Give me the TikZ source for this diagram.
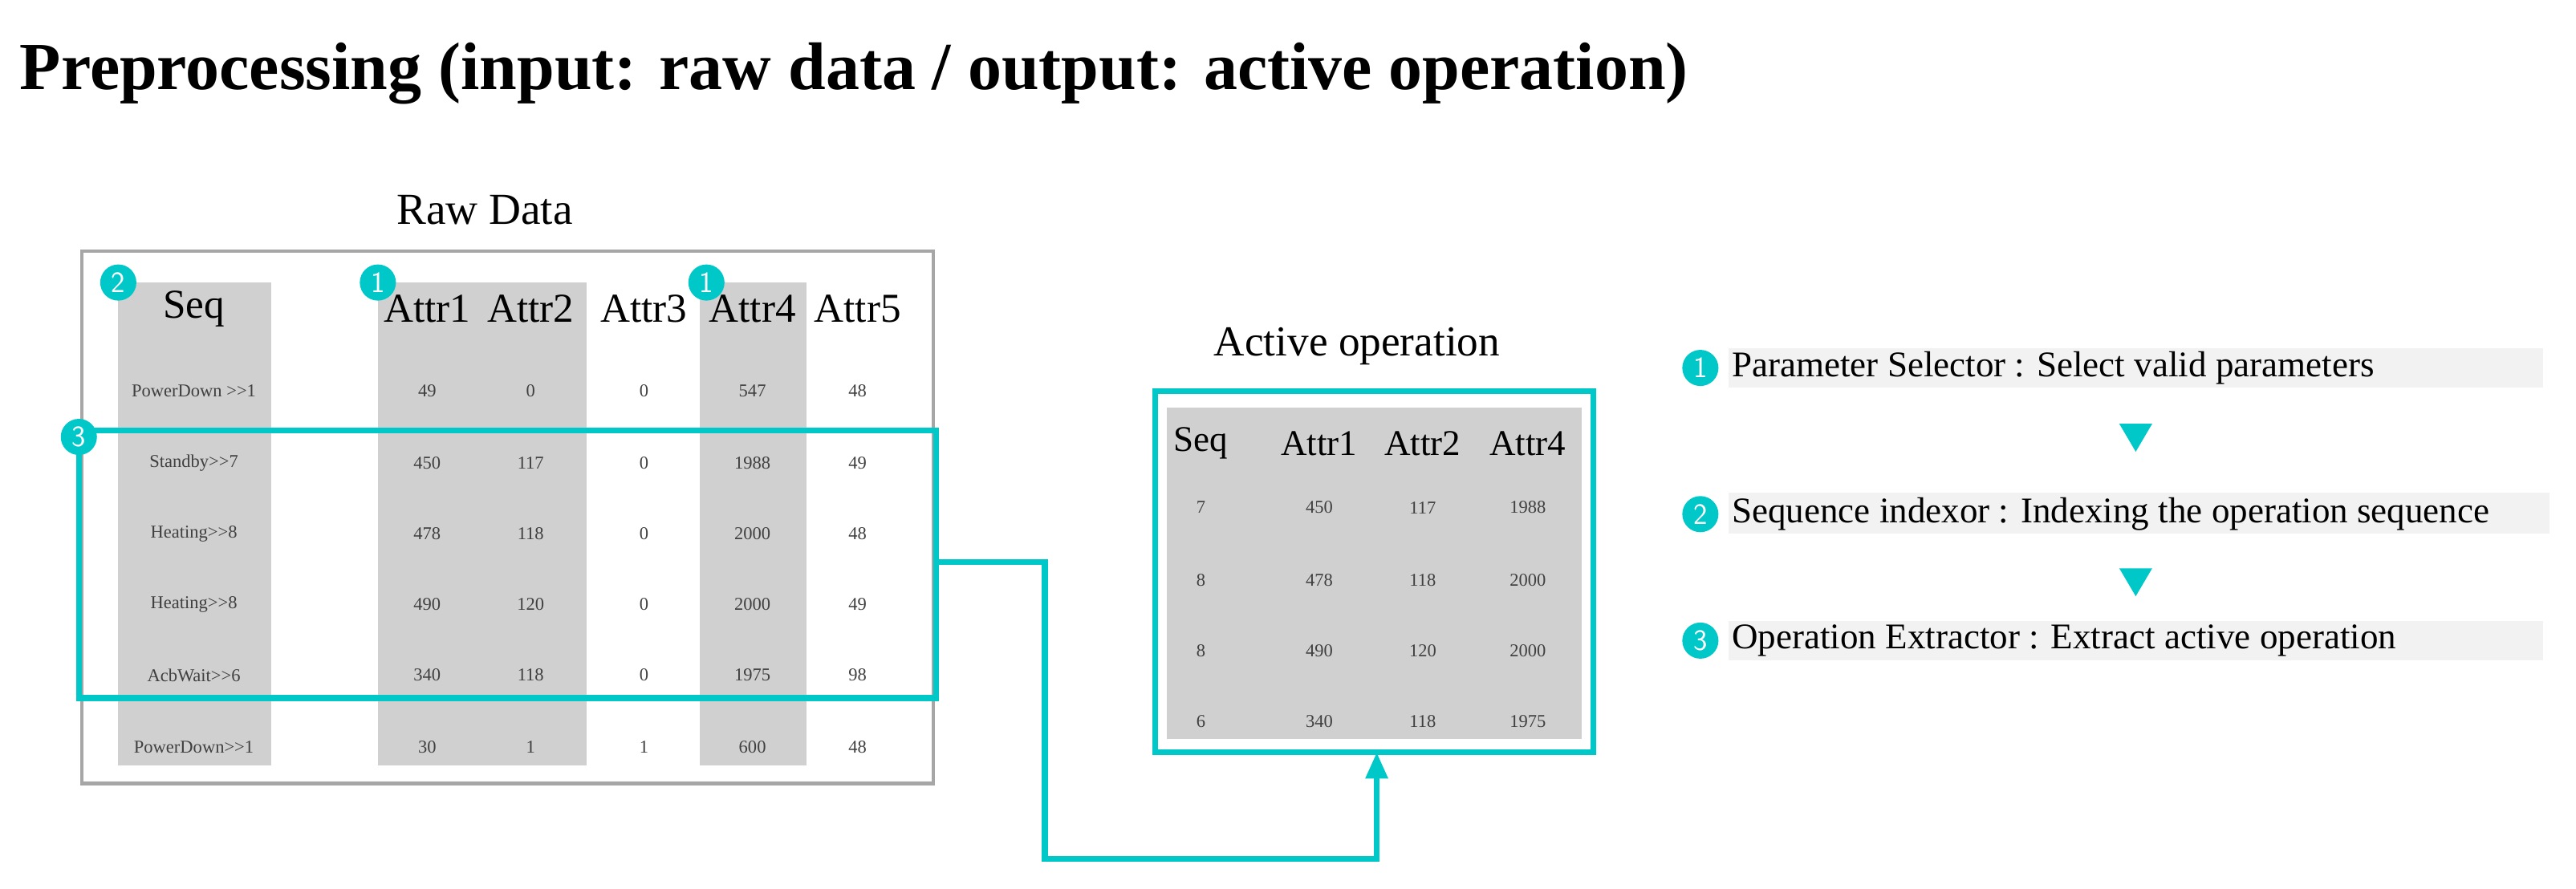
\documentclass[tikz,border=0pt]{standalone}
\usepackage{fontspec}
\setmainfont{Liberation Serif}
\usetikzlibrary{arrows.meta}
\definecolor{teal1}{RGB}{0,200,200}
\definecolor{gcol}{RGB}{208,208,208}
\begin{document}
\begin{tikzpicture}[x=1pt,y=-1pt,
  num/.style={circle,fill=teal1,text=white,inner sep=0pt,minimum size=22pt,font=\fontsize{18}{18}\sffamily},
  hd/.style={font=\fontsize{25}{25}\selectfont,inner sep=0pt},
  ahd/.style={font=\fontsize{22}{22}\selectfont,inner sep=0pt},
  cell/.style={font=\fontsize{11}{11}\selectfont,text=black!75,inner sep=0pt},
  tbox/.style={draw=teal1,line width=3.5pt},
  steptxt/.style={font=\fontsize{22}{22}\selectfont,anchor=west,inner sep=0pt},
  band/.style={fill=black!5},
  tri/.style={fill=teal1}]
\useasboundingbox (0,0) rectangle (1568,541);
\node[anchor=west,font=\bfseries\fontsize{41}{41}\selectfont,inner sep=0pt] (title) at (12,45) {Preprocessing (input: raw data / output: active operation)};
% raw data
\node[font=\fontsize{27}{27}\selectfont] (rawlbl) at (295,128) {Raw Data};
\draw[draw=black!35,line width=2pt] (50,153) rectangle (568,477);
\fill[gcol] (72,172) rectangle (165,466);
\fill[gcol] (230,172) rectangle (357,466);
\fill[gcol] (426,172) rectangle (491,466);
\foreach \n/\x in {Seq/118,Attr1/260,Attr2/323,Attr3/392,Attr4/458,Attr5/522}
  \node[hd] (h\n) at (\x,188) {\n};
\foreach \y/\a/\b/\c/\d/\e/\f [count=\i] in {
  238/PowerDown >{}>1/49/0/0/547/48,
  282/Standby>{}>7/450/117/0/1988/49,
  325/Heating>{}>8/478/118/0/2000/48,
  368/Heating>{}>8/490/120/0/2000/49,
  411/AcbWait>{}>6/340/118/0/1975/98,
  455/PowerDown>{}>1/30/1/1/600/48}{
  \node[cell] (r\i a) at (118,\y) {\a};
  \node[cell] (r\i b) at (260,\y) {\b};
  \node[cell] (r\i c) at (323,\y) {\c};
  \node[cell] (r\i d) at (392,\y) {\d};
  \node[cell] (r\i e) at (458,\y) {\e};
  \node[cell] (r\i f) at (522,\y) {\f};
}
\node[num] (c2) at (72,172) {2};
\node[num] (c1a) at (230,172) {1};
\node[num] (c1b) at (430,172) {1};
\draw[tbox] (48,262) rectangle (570,425);
\node[num] (c3) at (48,266) {3};
\coordinate (ex) at (570,342);
% active operation
\node[font=\fontsize{26}{26}\selectfont] (actlbl) at (826,211) {Active operation};
\fill[gcol] (710,248) rectangle (963,450);
\draw[tbox] (703,238) rectangle (970,458);
\coordinate (ain) at (838,458);
\foreach \n/\x in {Seq/731,Attr1/803,Attr2/866,Attr4/930}
  \node[ahd] (ah\n) at (\x,270) {\n};
\foreach \y/\a/\b/\c/\d [count=\i] in {309/7/450/117/1988,353/8/478/118/2000,396/8/490/120/2000,439/6/340/118/1975}{
  \node[cell] (ar\i a) at (731,\y) {\a};
  \node[cell] (ar\i b) at (803,\y) {\b};
  \node[cell] (ar\i c) at (866,\y) {\c};
  \node[cell] (ar\i d) at (930,\y) {\d};
}
\draw[draw=teal1,line width=3.5pt,-{Triangle[length=16pt,width=13pt]}] (ex) -| (636,523) -| (ain);
% steps
\fill[band] (1052,212) rectangle (1548,236);
\fill[band] (1052,300) rectangle (1552,325);
\fill[band] (1052,378) rectangle (1548,402);
\node[steptxt] (s1) at (1054,224) {Parameter Selector : Select valid parameters};
\node[steptxt] (s2) at (1054,313) {Sequence indexor : Indexing the operation sequence};
\node[steptxt] (s3) at (1054,390) {Operation Extractor : Extract active operation};
\node[num] (n1) at (1035,224) {1};
\node[num] (n2) at (1035,313) {2};
\node[num] (n3) at (1035,390) {3};
\fill[tri] (1290,258) -- (1310,258) -- (1300,275) -- cycle;
\fill[tri] (1290,346) -- (1310,346) -- (1300,363) -- cycle;
\end{tikzpicture}
\end{document}
